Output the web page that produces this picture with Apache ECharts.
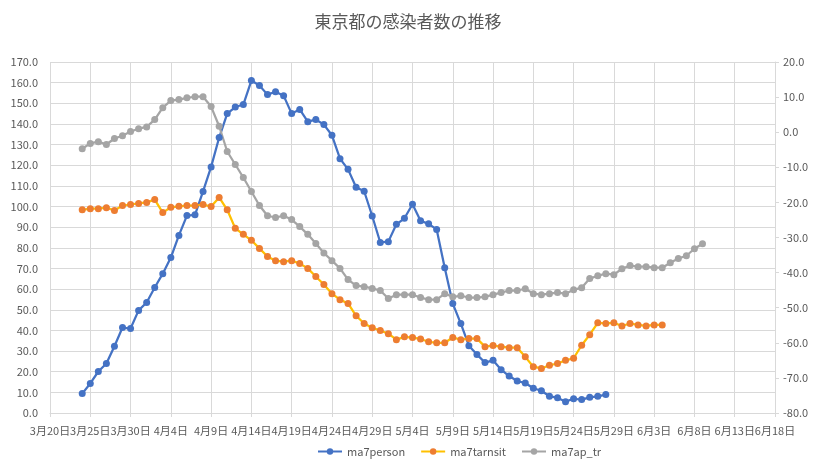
<!DOCTYPE html>
<html>
<head>
<meta charset="utf-8">
<script src="https://cdn.jsdelivr.net/npm/echarts@6/dist/echarts.min.js"></script>
<style>
  html, body { margin: 0; padding: 0; background: #fff; }
  #chart { width: 816px; height: 459px; }
</style>
</head>
<body>
<div id="chart"></div>
<script>
// x axis: every day from 3/20 to 6/18
const startMonth = 3, startDay = 20, dayCount = 91
const monthLen = { 3: 31, 4: 30, 5: 31, 6: 30 }
const days = []
{
  let m = startMonth, d = startDay
  for (let i = 0; i < dayCount; i++) {
    days.push(m + '月' + d + '日')
    d++
    if (d > monthLen[m]) { d = 1; m++ }
  }
}

// all three series start on 3/24 (4 days after the axis start)
const seriesStart = '3月24日'

// left axis, 3/24 .. 5/28
const ma7person = [
  9.4, 14.3, 20.1, 24.0, 32.3, 41.4, 40.9, 49.7, 53.5, 60.8, 67.5, 75.3,
  86.0, 95.6, 96.0, 107.3, 119.2, 133.4, 145.0, 148.2, 149.4, 161.0, 158.6, 154.2,
  155.6, 153.7, 145.0, 147.0, 141.1, 142.1, 139.7, 134.5, 123.2, 118.0, 109.3, 107.4,
  95.4, 82.6, 83.0, 91.4, 94.3, 101.1, 93.1, 91.6, 88.9, 70.4, 53.0, 43.3,
  32.6, 28.3, 24.4, 25.5, 21.0, 17.9, 15.5, 14.5, 12.0, 10.8, 8.1, 7.4,
  5.5, 6.9, 6.5, 7.6, 8.1, 8.9
]

// right axis, 3/24 .. 6/4
const ma7tarnsit = [
  -22.1, -21.8, -21.8, -21.5, -22.3, -20.9, -20.6, -20.3, -20.0, -19.2, -22.9, -21.4,
  -21.1, -20.9, -20.9, -20.6, -21.2, -18.6, -22.1, -27.4, -29.1, -30.8, -33.1, -35.4,
  -36.6, -36.9, -36.6, -37.4, -38.8, -41.1, -43.4, -46.0, -47.7, -48.8, -52.3, -54.5,
  -55.7, -56.5, -57.4, -59.1, -58.3, -58.5, -58.9, -59.7, -60.0, -60.0, -58.5, -59.1,
  -58.8, -58.8, -61.1, -60.8, -61.1, -61.4, -61.4, -64.0, -66.8, -67.3, -66.4, -65.9,
  -65.0, -64.4, -60.7, -57.7, -54.3, -54.5, -54.3, -55.2, -54.5, -54.9, -55.2, -54.9,
  -54.9
]

// right axis, 3/24 .. 6/9
const ma7ap_tr = [
  -4.7, -3.2, -2.7, -3.5, -1.8, -1.0, 0.2, 1.0, 1.5, 3.6, 7.0, 9.0,
  9.3, 9.8, 10.1, 10.1, 7.3, 1.7, -5.5, -9.2, -12.9, -16.9, -20.9, -23.8,
  -24.3, -23.8, -24.9, -26.9, -29.1, -31.7, -34.4, -36.6, -38.8, -42.0, -43.7, -44.0,
  -44.5, -45.1, -47.4, -46.3, -46.3, -46.3, -47.1, -47.7, -47.7, -46.0, -46.9, -46.6,
  -47.1, -47.1, -46.9, -46.3, -45.7, -45.1, -45.1, -44.6, -46.0, -46.3, -46.0, -45.7,
  -46.0, -44.9, -44.3, -41.7, -40.9, -40.3, -40.6, -38.9, -38.0, -38.3, -38.3, -38.6,
  -38.6, -37.2, -36.0, -35.2, -33.2, -31.8
]

const pad = vals => {
  const off = days.indexOf(seriesStart)
  return new Array(off).fill(null).concat(vals)
}

const textColor = '#595959'
const gridColor = '#d9d9d9'
const font = '"Noto Sans CJK JP", "Noto Sans", sans-serif'

const chart = echarts.init(document.getElementById('chart'))
chart.setOption({
  animation: false,
  textStyle: { fontFamily: font },
  title: {
    text: '東京都の感染者数の推移',
    left: 'center',
    top: 8,
    textStyle: { color: textColor, fontSize: 17, fontWeight: 'normal', fontFamily: font }
  },
  grid: { left: 50, right: 41, top: 62, bottom: 46 },
  legend: {
    top: 441,
    left: 312,
    itemWidth: 24,
    itemHeight: 8,
    itemGap: 15,
    textStyle: { color: textColor, fontSize: 11 },
    data: ['ma7person', 'ma7tarnsit', 'ma7ap_tr']
  },
  xAxis: {
    type: 'category',
    data: days,
    boundaryGap: false,
    axisLine: { lineStyle: { color: gridColor } },
    axisTick: { show: true, interval: 4, length: 4, lineStyle: { color: gridColor } },
    axisLabel: {
      interval: 4,
      color: textColor,
      fontSize: 11,
      margin: 12,
      hideOverlap: false
    },
    splitLine: { show: true, interval: 4, lineStyle: { color: gridColor } }
  },
  yAxis: [{
    type: 'value',
    min: 0,
    max: 170,
    interval: 10,
    axisLine: { show: false },
    axisTick: { show: false },
    axisLabel: { color: textColor, fontSize: 11, margin: 12, formatter: v => v.toFixed(1) },
    splitLine: { lineStyle: { color: gridColor } }
  }, {
    type: 'value',
    min: -80,
    max: 20,
    interval: 10,
    position: 'right',
    axisLine: { show: true, lineStyle: { color: gridColor } },
    axisTick: { show: true, length: 4, lineStyle: { color: gridColor } },
    axisLabel: { color: textColor, fontSize: 11, margin: 8, formatter: v => v.toFixed(1) },
    splitLine: { show: false }
  }],
  series: [{
    name: 'ma7person',
    type: 'line',
    yAxisIndex: 0,
    symbol: 'circle',
    symbolSize: 7,
    showAllSymbol: true,
    lineStyle: { color: '#4472c4', width: 2.25 },
    itemStyle: { color: '#4472c4' },
    data: pad(ma7person)
  }, {
    name: 'ma7tarnsit',
    type: 'line',
    yAxisIndex: 1,
    symbol: 'circle',
    symbolSize: 7,
    showAllSymbol: true,
    lineStyle: { color: '#ffc000', width: 2.25 },
    itemStyle: { color: '#ed7d31' },
    data: pad(ma7tarnsit)
  }, {
    name: 'ma7ap_tr',
    type: 'line',
    yAxisIndex: 1,
    symbol: 'circle',
    symbolSize: 7,
    showAllSymbol: true,
    lineStyle: { color: '#a5a5a5', width: 2.25 },
    itemStyle: { color: '#a5a5a5' },
    data: pad(ma7ap_tr)
  }]
})
</script>
</body>
</html>
